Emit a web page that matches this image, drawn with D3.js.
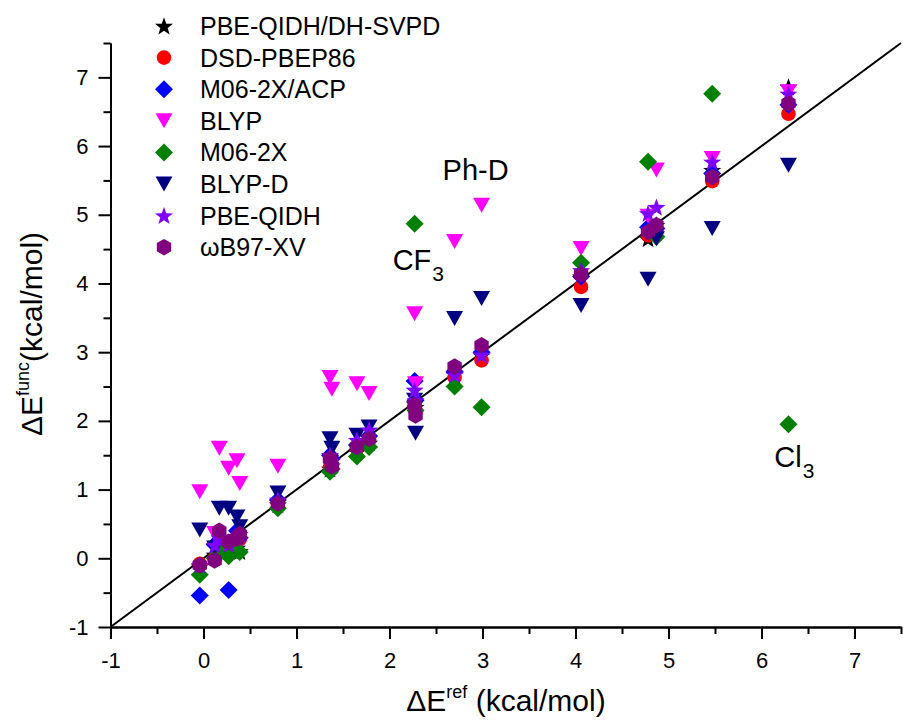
<!DOCTYPE html>
<html>
<head>
<meta charset="utf-8">
<script src="https://cdn.jsdelivr.net/npm/d3@7"></script>
<style>
  html, body { margin: 0; padding: 0; background: #fff; }
  svg { display: block; font-family: "Liberation Sans", Arial, sans-serif; }
</style>
</head>
<body>
<svg id="chart" width="903" height="720"></svg>
<script>
// ---------- data ----------
const refValues = [-0.04, 0.12, 0.17, 0.27, 0.36, 0.39, 0.80, 1.36, 1.38, 1.65, 1.78, 2.27, 2.28, 2.70, 2.99, 4.06, 4.78, 4.87, 5.47, 6.29];

const pbeQidhDhSvpd = [-0.12, 0.05, 0.22, 0.10, 0.15, 0.10, 0.78, 1.30, 1.35, 1.55, 1.68, 2.25, 2.20, 2.68, 2.95, 4.10, 4.65, 4.85, 5.65, 6.86];
const dsdPbep86     = [-0.08, 0.00, 0.25, 0.15, 0.25, 0.28, 0.80, 1.32, 1.35, 1.60, 1.72, 2.20, 2.15, 2.63, 2.88, 3.95, 4.70, 4.78, 5.49, 6.47];
const m062xAcp      = [-0.54, 0.20, 0.25, -0.46, 0.40, 0.30, 0.85, 1.50, 1.45, 1.65, 1.78, 2.58, 2.30, 2.72, 3.00, 4.10, 4.82, 4.80, 5.60, 6.60];
const blyp          = [0.97, 0.36, 1.60, 1.31, 1.42, 1.09, 1.34, 2.63, 2.46, 2.54, 2.40, 3.56, 2.54, 4.61, 5.14, 4.51, 4.98, 5.65, 5.82, 6.79];
const m062x         = [-0.24, 0.00, 0.10, 0.03, 0.12, 0.09, 0.73, 1.26, 1.30, 1.48, 1.62, 4.87, 2.15, 2.50, 2.20, 4.30, 5.77, 4.68, 6.76, 1.95];
const blypD         = [0.41, 0.15, 0.73, 0.73, 0.60, 0.46, 0.95, 1.74, 1.60, 1.79, 1.91, 2.30, 1.82, 3.49, 3.78, 3.68, 4.06, 4.65, 4.80, 5.72];
const pbeQidh       = [-0.10, 0.19, 0.30, 0.20, 0.30, 0.35, 0.85, 1.50, 1.42, 1.72, 1.87, 2.45, 2.30, 2.67, 2.96, 4.19, 5.02, 5.11, 5.77, 6.76];
const wb97xv        = [-0.10, -0.03, 0.40, 0.24, 0.29, 0.35, 0.80, 1.45, 1.34, 1.62, 1.74, 2.23, 2.08, 2.79, 3.10, 4.13, 4.75, 4.85, 5.55, 6.62];

const seriesNames  = ["PBE-QIDH/DH-SVPD", "DSD-PBEP86", "M06-2X/ACP", "BLYP", "M06-2X", "BLYP-D", "PBE-QIDH", "ωB97-XV"];
const seriesValues = [pbeQidhDhSvpd, dsdPbep86, m062xAcp, blyp, m062x, blypD, pbeQidh, wb97xv];
const seriesColors = ["#000000", "#FF0000", "#0000FF", "#FF00FF", "#008000", "#000080", "#8000FF", "#800080"];
const seriesShapes = ["star", "circle", "diamond", "triangleDown", "diamond", "triangleDown", "star", "hexagon"];

const xTicks = [-1, 0, 1, 2, 3, 4, 5, 6, 7];
const yTicks = [-1, 0, 1, 2, 3, 4, 5, 6, 7];
const minorTicks = [-0.5, 0.5, 1.5, 2.5, 3.5, 4.5, 5.5, 6.5, 7.5];
const axisDomain = [-1, 7.5];

const annotations = [
  { main: "Ph-D", sub: "", x: 2.571, y: 5.50 },
  { main: "CF", sub: "3", x: 2.034, y: 4.19 },
  { main: "Cl", sub: "3", x: 6.137, y: 1.327 }
];

// ---------- scales ----------
const svg = d3.select("#chart");
const x = d3.scaleLinear().domain(axisDomain).range([110.5, 901]);
const y = d3.scaleLinear().domain(axisDomain).range([627, 43]);

// ---------- symbols ----------
function makeSymbol(shape) {
  const p = d3.path();
  if (shape === "circle") {
    p.arc(0, 0, 7.3, 0, 2 * Math.PI);
  } else if (shape === "diamond") {
    const r = 9;
    p.moveTo(0, -r); p.lineTo(r, 0); p.lineTo(0, r); p.lineTo(-r, 0); p.closePath();
  } else if (shape === "triangleDown") {
    const w = 8.5, h = 7.5;
    p.moveTo(-w, -h); p.lineTo(w, -h); p.lineTo(0, h); p.closePath();
  } else if (shape === "hexagon") {
    const r = 8.3;
    for (let i = 0; i < 6; i++) {
      const a = -Math.PI / 2 + i * Math.PI / 3;
      const px = r * Math.cos(a), py = r * Math.sin(a);
      if (i === 0) p.moveTo(px, py); else p.lineTo(px, py);
    }
    p.closePath();
  } else if (shape === "star") {
    const R = 9.5, ri = 3.9;
    for (let i = 0; i < 10; i++) {
      const a = -Math.PI / 2 + i * Math.PI / 5;
      const rr = i % 2 === 0 ? R : ri;
      const px = rr * Math.cos(a), py = rr * Math.sin(a) + 0.8;
      if (i === 0) p.moveTo(px, py); else p.lineTo(px, py);
    }
    p.closePath();
  }
  return p.toString();
}

// ---------- axes ----------
const axisG = svg.append("g");
axisG.append("g").attr("transform", "translate(0,627)")
  .call(d3.axisBottom(x).tickValues(xTicks).tickSize(12).tickSizeOuter(0).tickPadding(13).tickFormat(d => String(d)));
axisG.append("g").attr("transform", "translate(0,627)")
  .call(d3.axisBottom(x).tickValues(minorTicks).tickSize(7).tickSizeOuter(0).tickFormat(""));
axisG.append("g").attr("transform", "translate(110.5,0)")
  .call(d3.axisLeft(y).tickValues(yTicks).tickSize(12).tickSizeOuter(0).tickPadding(10).tickFormat(d => String(d)));
axisG.append("g").attr("transform", "translate(110.5,0)")
  .call(d3.axisLeft(y).tickValues(minorTicks).tickSize(7).tickSizeOuter(0).tickFormat(""));

axisG.selectAll(".domain").attr("stroke", "#000").attr("stroke-width", 2);
axisG.selectAll(".tick line").attr("stroke", "#000").attr("stroke-width", 2);
axisG.selectAll(".tick text").attr("font-size", 22).attr("fill", "#000")
  .attr("font-family", "'Liberation Sans', Arial, sans-serif");

// ---------- diagonal line y = x ----------
svg.append("line")
  .attr("x1", x(axisDomain[0])).attr("y1", y(axisDomain[0]))
  .attr("x2", x(axisDomain[1])).attr("y2", y(axisDomain[1]))
  .attr("stroke", "#000").attr("stroke-width", 2);

// ---------- points ----------
seriesNames.forEach((name, si) => {
  const pts = refValues.map((r, i) => ({ r, v: seriesValues[si][i] }));
  svg.append("g").attr("class", "series")
    .selectAll("path").data(pts).join("path")
    .attr("d", makeSymbol(seriesShapes[si]))
    .attr("transform", d => `translate(${x(d.r)},${y(d.v)})`)
    .attr("fill", seriesColors[si]);
});

// ---------- legend ----------
const legend = svg.append("g");
seriesNames.forEach((name, i) => {
  const cy = 26 + i * 31.6;
  legend.append("path").attr("d", makeSymbol(seriesShapes[i]))
    .attr("transform", `translate(164,${cy})`).attr("fill", seriesColors[i]);
  legend.append("text").attr("x", 200).attr("y", cy + 9)
    .attr("font-size", 25).attr("fill", "#000").text(name);
});

// ---------- annotations ----------
annotations.forEach(a => {
  const t = svg.append("text").attr("x", x(a.x)).attr("y", y(a.y))
    .attr("font-size", 29).attr("fill", "#000");
  t.append("tspan").text(a.main);
  if (a.sub) t.append("tspan").attr("font-size", 21).attr("dy", 11).attr("dx", 1).text(a.sub);
});

// ---------- axis titles ----------
const xt = svg.append("text").attr("x", 506).attr("y", 711)
  .attr("text-anchor", "middle").attr("font-size", 30).attr("fill", "#000");
xt.append("tspan").text("ΔE");
xt.append("tspan").attr("font-size", 18).attr("dy", -13).text("ref");
xt.append("tspan").attr("dy", 13).text(" (kcal/mol)");

const yt = svg.append("text").attr("transform", "translate(42,334) rotate(-90)")
  .attr("text-anchor", "middle").attr("font-size", 30).attr("fill", "#000");
yt.append("tspan").text("ΔE");
yt.append("tspan").attr("font-size", 18).attr("dy", -13).text("func");
yt.append("tspan").attr("dy", 13).text("(kcal/mol)");
</script>
</body>
</html>
